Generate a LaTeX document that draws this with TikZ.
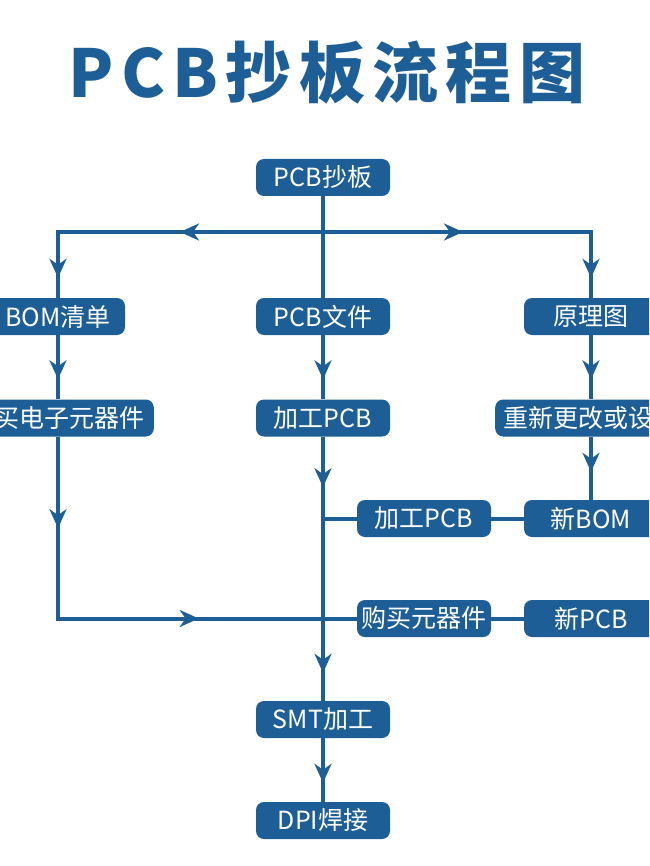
\documentclass[tikz,border=0pt]{standalone}
\usepackage{fontspec}
\setmainfont{Noto Sans CJK SC}
\usetikzlibrary{arrows.meta,decorations.markings}
\definecolor{pcbblue}{RGB}{29,94,150}
\newcommand\pcbtip{\arrow[pcbblue]{Stealth[length=19pt,width=17pt,inset=6pt]}}
\begin{document}
\begin{tikzpicture}[x=1pt,y=-1pt,
  box/.style={fill=pcbblue, text=white, rounded corners=8pt, minimum width=134pt,
    minimum height=37pt, inner sep=3pt, font=\fontsize{25}{25}\selectfont},
  flow/.style={draw=pcbblue, line width=4pt},
  arr/.style={postaction={decorate}, decoration={markings, mark=at position #1 with {\pcbtip}}},
  arrtwo/.style 2 args={postaction={decorate}, decoration={markings,
    mark=at position #1 with {\pcbtip}, mark=at position #2 with {\pcbtip}}},
  titlefont/.style={font=\fontsize{66}{66}\selectfont\bfseries\addfontfeature{LetterSpace=11}}
]
\useasboundingbox (0,0) rectangle (649,866);
\clip (0,0) rectangle (649,866);
\fill[white] (0,0) rectangle (649,866);

\node[titlefont, text=pcbblue] (title) at (327,73) {PCB抄板流程图};

\node[box] (pcb) at (323,177.5) {PCB抄板};
\coordinate (j) at (323,232);
\node[box] (bom) at (58,316.5) {BOM清单};
\node[box] (pcbf) at (323,316.5) {PCB文件};
\node[box] (sch) at (591,316.5) {原理图};
\node[box, anchor=east, text width=172pt, align=right, inner xsep=9pt] (buy) at (154,418) {买电子元器件};
\node[box] (proc1) at (323,418) {加工PCB};
\node[box, anchor=west, text width=172pt, align=left, inner xsep=8pt] (redes) at (495,418) {重新更改或设};
\node[box] (proc2) at (424,518.5) {加工PCB};
\node[box] (newbom) at (591,518.5) {新BOM};
\node[box] (purch) at (424,618.5) {购买元器件};
\node[box] (newpcb) at (591,618.5) {新PCB};
\node[box] (smt) at (323,719.5) {SMT加工};
\node[box] (dpi) at (323,820.5) {DPI焊接};

% top branches
\draw[flow] (pcb.south) -- (pcbf.north);
\draw[flow, arrtwo={143pt}{-20pt}] (j) -- (bom.north |- j) -- (bom.north);
\draw[flow, arrtwo={140pt}{-20pt}] (j) -- (sch.north |- j) -- (sch.north);
% row 1 -> row 2
\draw[flow, arr=-20pt] (bom.south) -- (bom.south |- buy.north);
\draw[flow, arr=-20pt] (pcbf.south) -- (proc1.north);
\draw[flow, arr=-20pt] (sch.south) -- (sch.south |- redes.north);
% right column
\draw[flow, arr=-28pt] (newbom.north |- redes.south) -- (newbom.north);
\draw[flow] (proc2.east) -- (newbom.west);
\draw[flow] (purch.east) -- (newpcb.west);
% center column
\draw[flow, arrtwo={50.5pt}{-28pt}] (proc1.south) -- (smt.north);
\draw[flow] (proc2.west) -- (proc2.west -| proc1.south);
% left loop
\draw[flow, arrtwo={91.5pt}{322.5pt}] (bom.south |- buy.south) -- (bom.south |- purch.west) -- (purch.west);
% bottom
\draw[flow, arr=-19pt] (smt.south) -- (dpi.north);
\end{tikzpicture}
\end{document}
